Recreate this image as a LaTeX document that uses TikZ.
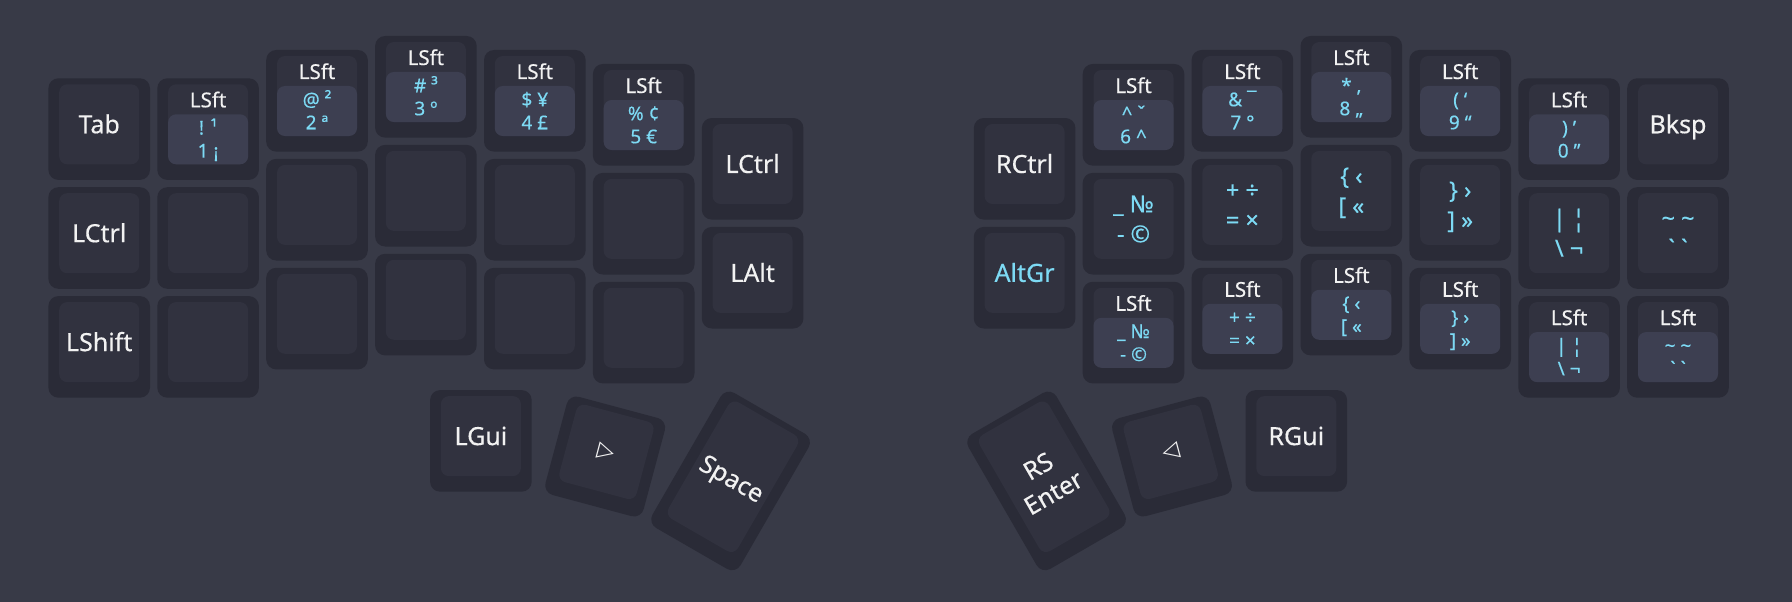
\documentclass[tikz,border=0pt]{standalone}
\usepackage{fontspec}
\setmainfont{Noto Sans}[FakeBold=0.4]
\newfontfamily\symfont{DejaVu Sans}
\definecolor{bg}{HTML}{383A47}
\definecolor{side}{HTML}{2A2B37}
\definecolor{cap}{HTML}{31323F}
\definecolor{boxc}{HTML}{3D3F51}
\definecolor{wtxt}{HTML}{F2F2F2}
\definecolor{ctxt}{HTML}{7DDAF4}
\tikzset{
 capside/.style={fill=side, rounded corners=10pt, minimum width=101.6pt, minimum height=101.6pt, inner sep=0pt},
 captop/.style={fill=cap, rounded corners=8pt, minimum width=80pt, minimum height=80pt, inner sep=0pt},
 tallside/.style={capside, minimum height=156pt},
 talltop/.style={captop, minimum height=134.4pt},
 keybox/.style={fill=boxc, rounded corners=8pt, minimum width=80pt, minimum height=50pt, inner sep=0pt},
 wlab/.style={inner sep=0pt, text height=17.9pt, text depth=0pt, text=wtxt, font=\fontsize{25}{30}\selectfont},
 clab/.style={inner sep=0pt, text height=16.8pt, text depth=0pt, text=ctxt, font=\fontsize{23.5}{28}\selectfont},
 hold/.style={inner sep=0pt, text height=14.6pt, text depth=0pt, text=wtxt, font=\fontsize{20.5}{24}\selectfont},
 blab/.style={inner sep=0pt, text height=13.5pt, text depth=0pt, text=ctxt, font=\fontsize{19}{22}\selectfont},
 tri/.style={inner sep=0pt, text=wtxt, font=\symfont\fontsize{22}{24}\selectfont},
}
\newcommand\keyat[6]{%
 \begin{scope}[shift={(#2,#3)}, rotate=#4, transform shape]
  \def\kn{#1}
  \node[#5side] (#1) at (0,0) {};
  \node[#5top] (#1-top) at (0,-4.8) {};
  #6
 \end{scope}}
\newcommand\wl[1]{\node[wlab] (\kn-l) at (0,-4.8) {#1};}
\newcommand\cll[2]{\node[clab] (\kn-a) at (0,-19.8) {#1}; \node[clab] (\kn-b) at (0,10.2) {#2};}
\newcommand\sbx[2]{\node[keybox] (\kn-box) at (0,10.2) {};
 \node[hold] (\kn-h) at (0,-29.1) {LSft};
 \node[blab] (\kn-a) at (0,-1.3) {#1};
 \node[blab] (\kn-b) at (0,21.7) {#2};}
\begin{document}
\begin{tikzpicture}[x=1pt,y=-1pt]
\fill[bg] (0,0) rectangle (1792,602);
\useasboundingbox (0,0) rectangle (1792,602);
% left half
\keyat{tab}{99.2}{129.1}{0}{cap}{\wl{Tab}}
\keyat{lctrl}{99.2}{238.0}{0}{cap}{\wl{LCtrl}}
\keyat{lshift}{99.2}{346.9}{0}{cap}{\wl{LShift}}
\keyat{k1}{208.1}{129.1}{0}{cap}{\sbx{! ¹}{1 ¡}}
\keyat{k1b}{208.1}{238.0}{0}{cap}{}
\keyat{k1c}{208.1}{346.9}{0}{cap}{}
\keyat{k2}{317.0}{100.8}{0}{cap}{\sbx{@ ²}{2 ª}}
\keyat{k2b}{317.0}{209.7}{0}{cap}{}
\keyat{k2c}{317.0}{318.6}{0}{cap}{}
\keyat{k3}{425.9}{86.8}{0}{cap}{\sbx{\# ³}{3 º}}
\keyat{k3b}{425.9}{195.7}{0}{cap}{}
\keyat{k3c}{425.9}{304.6}{0}{cap}{}
\keyat{k4}{534.8}{100.8}{0}{cap}{\sbx{\$ ¥}{4 £}}
\keyat{k4b}{534.8}{209.7}{0}{cap}{}
\keyat{k4c}{534.8}{318.6}{0}{cap}{}
\keyat{k5}{643.7}{114.8}{0}{cap}{\sbx{\% ¢}{5 €}}
\keyat{k5b}{643.7}{223.7}{0}{cap}{}
\keyat{k5c}{643.7}{332.6}{0}{cap}{}
\keyat{lctrlb}{752.6}{168.8}{0}{cap}{\wl{LCtrl}}
\keyat{lalt}{752.6}{277.7}{0}{cap}{\wl{LAlt}}
\keyat{lgui}{480.9}{440.9}{0}{cap}{\wl{LGui}}
\keyat{ltrans}{605.2}{456.5}{-15}{cap}{\node[tri] (\kn-l) at (0,-4.8) {▷};}
\keyat{space}{730.6}{480.9}{-30}{tall}{\node[wlab] (\kn-l) at (0,-3) {Space};}
% right half
\keyat{rctrl}{1024.6}{168.8}{0}{cap}{\wl{RCtrl}}
\keyat{altgr}{1024.6}{277.7}{0}{cap}{\node[wlab, text=ctxt] (\kn-l) at (0,-4.8) {AltGr};}
\keyat{r0}{1133.5}{114.8}{0}{cap}{\sbx{\textasciicircum{} ˇ}{6 \textasciicircum}}
\keyat{r0b}{1133.5}{223.7}{0}{cap}{\cll{\_ №}{- ©}}
\keyat{r0c}{1133.5}{332.6}{0}{cap}{\sbx{\_ №}{- ©}}
\keyat{r1}{1242.4}{100.8}{0}{cap}{\sbx{\& ¯}{7 °}}
\keyat{r1b}{1242.4}{209.7}{0}{cap}{\cll{+ ÷}{= ×}}
\keyat{r1c}{1242.4}{318.6}{0}{cap}{\sbx{+ ÷}{= ×}}
\keyat{r2}{1351.3}{86.8}{0}{cap}{\sbx{* ‚}{8 „}}
\keyat{r2b}{1351.3}{195.7}{0}{cap}{\cll{\{ ‹}{[ «}}
\keyat{r2c}{1351.3}{304.6}{0}{cap}{\sbx{\{ ‹}{[ «}}
\keyat{r3}{1460.2}{100.8}{0}{cap}{\sbx{( ‘}{9 “}}
\keyat{r3b}{1460.2}{209.7}{0}{cap}{\cll{\} ›}{] »}}
\keyat{r3c}{1460.2}{318.6}{0}{cap}{\sbx{\} ›}{] »}}
\keyat{r4}{1569.1}{129.1}{0}{cap}{\sbx{) ’}{0 ”}}
\keyat{r4b}{1569.1}{238.0}{0}{cap}{\cll{| ¦}{\textbackslash{} ¬}}
\keyat{r4c}{1569.1}{346.9}{0}{cap}{\sbx{| ¦}{\textbackslash{} ¬}}
\keyat{bksp}{1678.0}{129.1}{0}{cap}{\wl{Bksp}}
\keyat{r5b}{1678.0}{238.0}{0}{cap}{\cll{\textasciitilde{} \textasciitilde}{\textasciigrave{} \textasciigrave}}
\keyat{r5c}{1678.0}{346.9}{0}{cap}{\sbx{\textasciitilde{} \textasciitilde}{\textasciigrave{} \textasciigrave}}
\keyat{rgui}{1296.3}{440.9}{0}{cap}{\wl{RGui}}
\keyat{rtrans}{1172.0}{456.5}{15}{cap}{\node[tri] (\kn-l) at (0,-4.8) {◁};}
\keyat{enter}{1046.6}{480.9}{30}{tall}{\node[inner sep=0pt, text=wtxt, align=center, font=\fontsize{25}{30.5}\selectfont] (\kn-l) at (0,-1.75) {RS\\Enter};}
\end{tikzpicture}
\end{document}
